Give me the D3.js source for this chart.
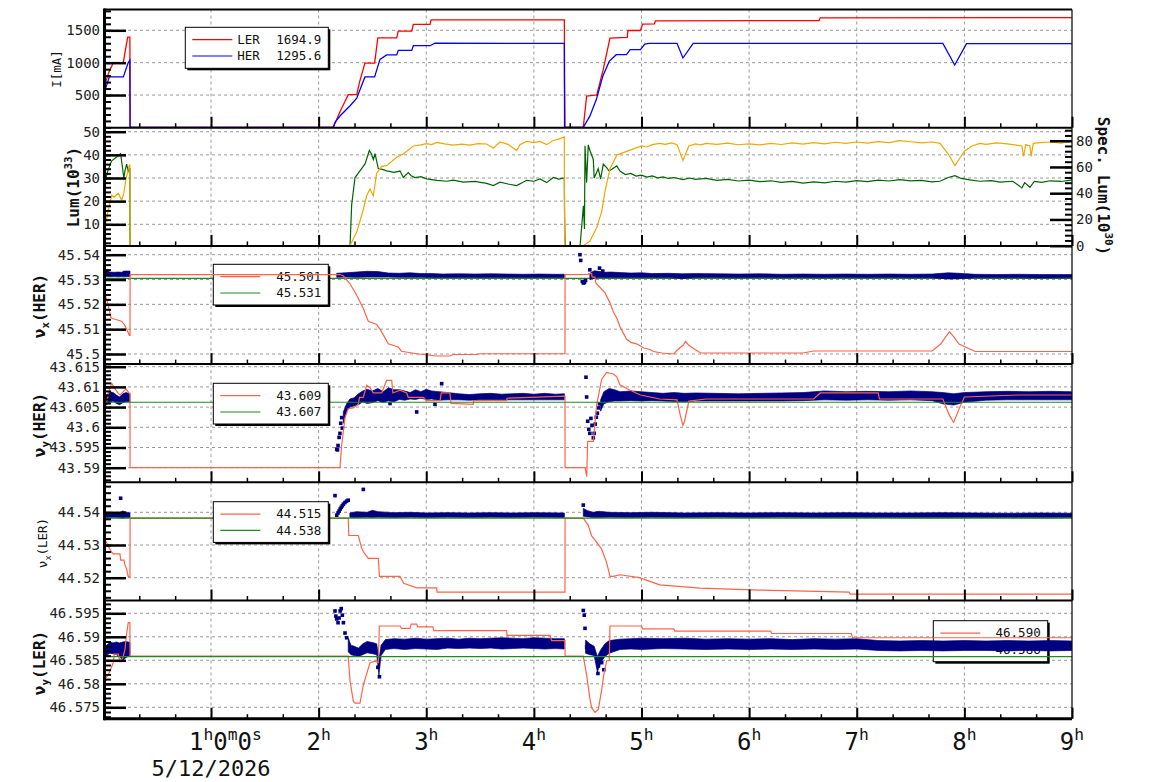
<!DOCTYPE html>
<html>
<head>
<meta charset="utf-8">
<script src="https://cdn.jsdelivr.net/npm/d3@7"></script>
<style>
body { margin: 0; background: #fff; }
svg { display: block; }
</style>
</head>
<body>
<div id="chart"></div>
<script>
"use strict";

// ---- data (time in hours since 0h) ----
const hourTicks = [1, 2, 3, 4, 5, 6, 7, 8, 9];
const dateLabel = "5/12/2026";

// panel 1 : beam currents [mA]
const lerCurrent = [
  [0.0,600],[0.008,635],[0.05,850],[0.092,1000],[0.185,1000],[0.2,1150],[0.226,1395],[0.246,1395],[0.248,0],
  [2.136,0],[2.2,250],[2.24,386],[2.275,505],[2.354,505],[2.38,700],[2.43,992],[2.52,992],[2.55,1383],[2.725,1383],
  [2.74,1487],[2.865,1487],[2.88,1592],[3.035,1592],[3.045,1662],[4.283,1662],[4.285,700],[4.289,0],
  [4.459,0],[4.49,485],[4.568,500],[4.584,500],[4.645,900],[4.707,1380],[4.868,1390],[4.874,1497],[4.99,1497],
  [5.01,1595],[5.12,1600],[5.13,1646],[6.65,1650],[6.66,1692],[9.0,1695]
];
const herCurrent = [
  [0.0,520],[0.008,535],[0.055,780],[0.185,780],[0.23,1000],[0.246,1040],[0.248,0],
  [2.136,0],[2.152,80],[2.2,180],[2.29,330],[2.354,450],[2.43,780],[2.52,780],[2.57,1050],[2.632,1120],[2.725,1120],
  [2.74,1190],[2.865,1190],[2.88,1262],[3.035,1262],[3.08,1300],[4.283,1298],[4.285,0],
  [4.459,0],[4.52,174],[4.58,430],[4.64,790],[4.70,1020],[4.765,1123],[4.86,1123],[4.895,1200],[4.99,1200],
  [5.03,1288],[5.07,1298],[5.33,1298],[5.385,1072],[5.48,1298],[7.80,1298],[7.91,964],[8.02,1295],[9.0,1295]
];
const p1LegendNames = ["LER", "HER"];
const p1LegendValues = ["1694.9", "1295.6"];

// panel 2 : luminosity (left, 1e33) and specific luminosity (right, 1e30)
const luminosity = [
  [0.0,25],[0.008,26.5],[0.04,33],[0.077,37.4],[0.138,39.6],[0.16,40.5],[0.17,37],[0.19,30],[0.2,33],[0.216,36],
  [0.231,33],[0.241,34],[0.246,34],[0.247,7],[0.249,0],
  [2.291,0],[2.307,18.5],[2.338,30.2],[2.384,33.1],[2.431,36.1],[2.471,41.9],[2.49,40.5],[2.508,38],[2.524,40.5],
  [2.554,34.1],[2.6,33.6],[2.632,33.1],[2.7,32.4],[2.756,33],[2.787,30.2],[2.833,32.3],[2.86,31.0],[2.895,30.2],
  [2.95,30.6],[3.004,29.6],[3.1,29.0],[3.19,28.6],[3.25,29.1],[3.344,28.2],[3.45,28.5],[3.561,27.7],[3.623,26.7],
  [3.685,28.2],[3.76,27.4],[3.84,26.7],[3.933,29],[4.0,28.6],[4.057,29.6],[4.119,28],[4.18,30.2],[4.23,29.5],[4.283,30],
  [4.285,15.5],[4.29,0],
  [4.428,0],[4.46,18],[4.47,8],[4.475,43.9],[4.49,28],[4.505,44.3],[4.52,42],[4.552,38],[4.56,30],[4.598,34],
  [4.62,29.6],[4.645,36],[4.676,34.5],[4.70,33],[4.77,35.2],[4.80,33],[4.85,31.5],[4.9,32],[4.95,30.8],[5.0,31.2],
  [5.05,30.4],[5.1,30.9],[5.15,30.1],[5.2,30.5],[5.25,29.8],[5.3,30.2],[5.385,29.3],[5.45,30.0],[5.5,29.4],
  [5.6,29.8],[5.7,29.0],[5.8,29.4],[5.9,28.7],[6.0,29.1],[6.1,28.4],[6.2,28.8],[6.3,28.1],[6.4,28.5],[6.5,27.8],
  [6.6,28.3],[6.7,27.9],[6.8,28.6],[6.9,28.2],[7.0,28.9],[7.1,28.4],[7.2,29.1],[7.3,28.7],[7.4,29.3],[7.5,28.8],
  [7.6,29.0],[7.7,28.3],[7.773,28.6],[7.85,30.2],[7.912,31],[7.97,29.8],[8.05,29.2],[8.144,28.6],[8.25,28.9],
  [8.33,28.2],[8.45,28.6],[8.534,25.7],[8.56,28],[8.609,26],[8.65,28.5],[8.72,28.1],[8.795,28.8],[8.9,28.5],[9.0,29.2]
];
const specLuminosity = [
  [0.0,10],[0.008,11.5],[0.04,25],[0.077,38.5],[0.1,37],[0.138,40],[0.17,34.6],[0.19,40],[0.21,51],[0.241,61.5],
  [0.246,61],[0.248,0],
  [2.291,0],[2.354,10.4],[2.415,27.6],[2.446,38],[2.477,43.2],[2.508,38],[2.539,55.3],[2.586,60.5],[2.632,61],
  [2.725,67.4],[2.787,69.8],[2.879,76],[2.95,76.8],[3.004,77.7],[3.05,77.0],[3.1,78.7],[3.17,77.6],[3.251,76.6],
  [3.33,77.4],[3.406,76.6],[3.48,77.8],[3.561,77.5],[3.623,74.3],[3.685,79],[3.76,77.2],[3.84,72.5],[3.87,77],
  [3.933,79.4],[4.0,78.6],[4.057,79.4],[4.119,77],[4.18,80.2],[4.23,81.2],[4.283,82.9],[4.285,0],
  [4.459,0],[4.521,3.5],[4.584,13.9],[4.63,26],[4.661,41.5],[4.707,58.7],[4.77,69],[4.80,70],[4.9,73],[4.95,74.5],
  [5.0,76],[5.05,75.2],[5.1,77],[5.17,78],[5.22,77.2],[5.28,78.3],[5.33,77],[5.385,65],[5.44,76],[5.5,77.5],
  [5.55,76.8],[5.6,78],[5.7,77.2],[5.8,78.2],[5.9,76.9],[6.0,77.6],[6.1,76.8],[6.2,78],[6.3,77.1],[6.4,78.3],
  [6.5,77.4],[6.6,78.5],[6.7,77.6],[6.8,78.8],[6.9,78],[7.0,79],[7.1,78.2],[7.2,79.3],[7.3,78.6],[7.4,80],
  [7.5,79.2],[7.6,78.4],[7.7,79],[7.773,78],[7.85,70],[7.912,61],[7.96,67],[8.0,72],[8.07,76],[8.144,78],
  [8.2,77.2],[8.3,78.4],[8.4,77.6],[8.534,76],[8.55,68],[8.57,77],[8.609,76],[8.62,68],[8.64,78],[8.7,78.6],
  [8.8,79],[8.9,78.2],[9.0,80]
];

// panel 3 : nu_x (HER)
const nuxHerLine = [
  [0.0,45.525],[0.008,45.5246],[0.031,45.5219],[0.071,45.5146],[0.092,45.5142],[0.17,45.5132],[0.20,45.5115],
  [0.231,45.5086],[0.241,45.5075],[0.247,45.5075],[0.248,45.532],
  [2.198,45.532],[2.229,45.5315],[2.291,45.5283],[2.354,45.5237],[2.415,45.5183],[2.461,45.5132],[2.539,45.5119],
  [2.57,45.51],[2.617,45.5065],[2.647,45.5041],[2.74,45.5028],[2.77,45.5011],[2.911,45.5001],[3.097,45.4992],
  [3.22,45.4992],[3.25,45.4998],[3.469,45.4998],[3.50,45.5001],[4.289,45.5001],[4.29,45.532],
  [4.505,45.5321],[4.51,45.5324],[4.537,45.5324],[4.54,45.531],[4.568,45.531],[4.575,45.5286],[4.661,45.5246],
  [4.707,45.5206],[4.738,45.517],[4.77,45.5145],[4.80,45.511],[4.83,45.5085],[4.86,45.506],[4.90,45.5047],
  [4.96,45.504],[5.02,45.5024],[5.08,45.5018],[5.11,45.501],[5.19,45.5004],[5.30,45.5],[5.33,45.5015],
  [5.385,45.5035],[5.41,45.505],[5.44,45.5035],[5.49,45.502],[5.55,45.5004],[6.5,45.5004],[6.6,45.5012],
  [7.7,45.5012],[7.78,45.504],[7.86,45.509],[7.9,45.507],[7.95,45.504],[8.05,45.502],[8.1,45.501],[9.0,45.501]
];
const nuxHerBand = [
  [0.0,45.5311,45.5340],[0.03,45.5312,45.5338],[0.06,45.5311,45.5330],[0.1,45.5312,45.5329],[0.14,45.5311,45.5330],
  [0.17,45.5312,45.5329],[0.19,45.5311,45.5334],[0.22,45.5312,45.5334],[0.247,45.5312,45.5334], null,
  [2.168,45.5309,45.5325],[2.25,45.5310,45.5327],[2.35,45.5309,45.5330],[2.45,45.5310,45.5333],[2.55,45.5310,45.5332],
  [2.65,45.5310,45.5326],[2.75,45.5309,45.5325],[2.85,45.5309,45.5327],[2.95,45.5309,45.5324],[3.05,45.5308,45.5324],
  [3.15,45.5308,45.5322],[3.3,45.5308,45.5323],[3.45,45.5308,45.5322],[3.6,45.5308,45.5323],[3.75,45.5308,45.5322],
  [3.9,45.5308,45.5321],[4.05,45.5308,45.5322],[4.2,45.5308,45.5321],[4.283,45.5308,45.5321], null,
  [4.52,45.5300,45.5325],[4.56,45.5305,45.5335],[4.6,45.5308,45.5333],[4.65,45.5308,45.5329],[4.72,45.5308,45.5330],
  [4.8,45.5308,45.5328],[4.9,45.5308,45.5326],[5.0,45.5308,45.5327],[5.1,45.5308,45.5324],[5.25,45.5308,45.5325],
  [5.38,45.5304,45.5323],[5.5,45.5308,45.5324],[5.7,45.5308,45.5323],[5.9,45.5307,45.5322],[6.1,45.5308,45.5323],
  [6.3,45.5307,45.5321],[6.5,45.5308,45.5322],[6.7,45.5307,45.5321],[6.9,45.5308,45.5322],[7.1,45.5307,45.5321],
  [7.3,45.5308,45.5322],[7.5,45.5307,45.5321],[7.7,45.5307,45.5322],[7.85,45.5302,45.5327],[7.95,45.5303,45.5325],
  [8.1,45.5307,45.5321],[8.3,45.5307,45.5320],[8.5,45.5307,45.5321],[8.7,45.5306,45.5320],[9.0,45.5307,45.5320]
];
const nuxHerDots = [
  [4.428,45.5400],[4.435,45.5377],[4.45,45.5292],[4.46,45.5286],[4.47,45.5288],[4.48,45.5296],[4.52,45.5339],
  [4.61,45.5346],[4.64,45.5334]
];

// panel 4 : nu_y (HER)
const nuyHerLine = [
  [0.0,43.605],[0.008,43.605],[0.031,43.6062],[0.055,43.6092],[0.077,43.6109],[0.092,43.6102],[0.138,43.6084],
  [0.154,43.608],[0.17,43.6084],[0.21,43.6095],[0.241,43.6084],[0.247,43.6084],[0.248,43.59],
  [2.198,43.59],[2.214,43.5956],[2.245,43.6024],[2.275,43.6046],[2.322,43.6048],[2.368,43.6057],[2.38,43.6074],
  [2.415,43.6074],[2.446,43.6104],[2.477,43.6098],[2.508,43.6085],[2.586,43.6085],[2.632,43.6116],[2.679,43.6116],
  [2.69,43.6085],[2.756,43.6092],[2.818,43.6085],[2.833,43.6074],[2.972,43.6074],[3.0,43.6066],[3.128,43.6066],
  [3.14,43.6085],[3.22,43.6085],[3.23,43.6059],[3.437,43.6057],[3.44,43.6066],[3.747,43.6066],[3.75,43.6072],
  [4.289,43.6077],[4.29,43.59],
  [4.475,43.59],[4.491,43.5878],[4.50,43.5965],[4.552,43.5965],[4.584,43.6057],[4.63,43.6119],[4.676,43.6136],
  [4.738,43.6132],[4.77,43.6125],[4.80,43.6105],[4.87,43.6095],[4.99,43.608],[5.17,43.607],[5.33,43.6068],
  [5.36,43.603],[5.385,43.6005],[5.40,43.6015],[5.44,43.6065],[5.6,43.607],[6.6,43.607],[6.66,43.6085],
  [7.2,43.6085],[7.21,43.607],[7.8,43.607],[7.86,43.603],[7.9,43.6012],[7.95,43.6045],[8.0,43.6075],[8.5,43.608],
  [9.0,43.608]
];
const nuyHerBand = [
  [0.0,43.6053,43.6083],[0.03,43.6056,43.6080],[0.06,43.6062,43.6088],[0.09,43.6065,43.6086],[0.12,43.6059,43.6080],
  [0.15,43.6056,43.6075],[0.18,43.6061,43.6083],[0.21,43.6063,43.6086],[0.247,43.6063,43.6083], null,
  [2.229,43.6010,43.6038],[2.26,43.6040,43.6058],[2.29,43.6050,43.6070],[2.33,43.6053,43.6073],[2.37,43.6056,43.6083],
  [2.41,43.6063,43.6090],[2.45,43.6059,43.6094],[2.5,43.6061,43.6090],[2.55,43.6066,43.6096],[2.6,43.6061,43.6088],
  [2.65,43.6066,43.6098],[2.7,43.6063,43.6093],[2.75,43.6069,43.6093],[2.8,43.6067,43.6090],[2.85,43.6070,43.6086],
  [2.9,43.6069,43.6093],[2.95,43.6072,43.6088],[3.0,43.6069,43.6094],[3.05,43.6070,43.6090],[3.12,43.6067,43.6088],
  [3.2,43.6068,43.6086],[3.3,43.6068,43.6083],[3.4,43.6067,43.6081],[3.5,43.6068,43.6083],[3.6,43.6068,43.6084],
  [3.7,43.6068,43.6082],[3.8,43.6068,43.6083],[3.9,43.6068,43.6084],[4.0,43.6068,43.6082],[4.1,43.6068,43.6084],
  [4.2,43.6068,43.6082],[4.283,43.6068,43.6083], null,
  [4.62,43.6040,43.6068],[4.65,43.6058,43.6088],[4.7,43.6063,43.6096],[4.75,43.6065,43.6093],[4.8,43.6065,43.6088],
  [4.9,43.6066,43.6090],[5.0,43.6065,43.6088],[5.1,43.6066,43.6086],[5.2,43.6065,43.6084],[5.3,43.6064,43.6086],
  [5.4,43.6063,43.6084],[5.5,43.6065,43.6085],[5.7,43.6065,43.6084],[5.9,43.6065,43.6083],[6.1,43.6065,43.6084],
  [6.3,43.6065,43.6085],[6.5,43.6066,43.6086],[6.7,43.6068,43.6090],[6.9,43.6067,43.6088],[7.1,43.6068,43.6089],
  [7.3,43.6067,43.6088],[7.5,43.6068,43.6090],[7.7,43.6066,43.6088],[7.8,43.6058,43.6086],[7.9,43.6055,43.6083],
  [8.0,43.6062,43.6086],[8.2,43.6067,43.6088],[8.4,43.6068,43.6089],[8.6,43.6068,43.6088],[8.8,43.6068,43.6089],
  [9.0,43.6068,43.6088]
];
const nuyHerDots = [
  [2.168,43.5946],[2.175,43.5944],[2.18,43.5955],[2.19,43.5975],[2.198,43.5985],[2.205,43.6010],[2.214,43.6024],
  [2.22,43.5998],[2.663,43.6059],[2.911,43.6038],[3.081,43.6057],[3.143,43.6108],
  [4.484,43.6124],[4.49,43.6075],[4.5,43.6015],[4.51,43.5995],[4.52,43.5985],[4.53,43.6022],[4.54,43.6005],
  [4.552,43.5974],[4.56,43.5985],[4.57,43.6008],[4.58,43.6025],[4.59,43.6035],[4.6,43.6048],[4.61,43.6058]
];

// panel 5 : nu_x (LER)
const nuxLerLine = [
  [0.0,44.533],[0.008,44.532],[0.031,44.5306],[0.071,44.528],[0.092,44.5273],[0.154,44.5273],[0.16,44.5254],
  [0.191,44.5254],[0.20,44.524],[0.216,44.5226],[0.231,44.5203],[0.247,44.5203],[0.248,44.5382],
  [2.275,44.5382],[2.28,44.5329],[2.368,44.5329],[2.40,44.529],[2.415,44.528],[2.461,44.5259],[2.554,44.5259],
  [2.565,44.5204],[2.756,44.5204],[2.79,44.5183],[2.911,44.5169],[3.097,44.5169],[3.1,44.5156],[4.289,44.5156],
  [4.29,44.5382],
  [4.459,44.5382],[4.505,44.536],[4.537,44.5328],[4.584,44.5308],[4.63,44.5287],[4.676,44.5246],[4.707,44.5204],
  [4.738,44.5204],[4.80,44.5209],[4.98,44.52],[5.17,44.5178],[5.543,44.5168],[6.1,44.5162],[6.93,44.5156],
  [6.94,44.515],[9.0,44.515]
];
const nuxLerBand = [
  [0.0,44.5384,44.5398],[0.05,44.5384,44.5396],[0.1,44.5385,44.5397],[0.15,44.5383,44.5399],[0.18,44.5382,44.5404],
  [0.2,44.5383,44.5402],[0.247,44.5384,44.5398], null,
  [2.29,44.5384,44.5398],[2.35,44.5384,44.5402],[2.45,44.5385,44.5400],[2.5,44.5384,44.5406],[2.55,44.5385,44.5402],
  [2.7,44.5384,44.5399],[2.85,44.5385,44.5400],[3.0,44.5384,44.5398],[3.2,44.5385,44.5399],[3.4,44.5384,44.5398],
  [3.6,44.5385,44.5399],[3.8,44.5384,44.5398],[4.0,44.5385,44.5399],[4.283,44.5384,44.5398], null,
  [4.459,44.5388,44.5412],[4.5,44.5386,44.5405],[4.55,44.5384,44.5400],[4.6,44.5384,44.5403],[4.7,44.5385,44.5400],
  [4.9,44.5384,44.5399],[5.1,44.5385,44.5400],[5.4,44.5384,44.5398],[5.7,44.5385,44.5399],[6.0,44.5384,44.5398],
  [6.3,44.5385,44.5399],[6.6,44.5384,44.5398],[6.9,44.5384,44.5399],[7.2,44.5384,44.5398],[7.5,44.5383,44.5398],
  [7.8,44.5383,44.5399],[8.1,44.5384,44.5398],[8.4,44.5384,44.5397],[8.7,44.5383,44.5398],[9.0,44.5384,44.5397]
];
const nuxLerDots = [
  [0.16,44.5443],[2.152,44.5451],[2.168,44.5391],[2.18,44.5398],[2.19,44.5404],[2.2,44.5410],[2.21,44.5415],
  [2.22,44.5420],[2.23,44.5425],[2.245,44.5430],[2.26,44.5434],[2.275,44.5437],[2.415,44.5470],[4.459,44.5422]
];

// panel 6 : nu_y (LER)
const nuyLerLine = [
  [0.0,46.5805],[0.008,46.581],[0.031,46.5815],[0.05,46.5822],[0.071,46.5833],[0.092,46.5845],[0.10,46.5863],
  [0.138,46.5863],[0.154,46.5847],[0.17,46.5847],[0.18,46.5855],[0.20,46.5872],[0.216,46.5907],[0.231,46.593],
  [0.246,46.593],[0.248,46.5859],
  [2.275,46.5859],[2.291,46.5807],[2.322,46.5763],[2.338,46.5759],[2.384,46.5759],[2.415,46.5797],[2.477,46.5845],
  [2.524,46.5848],[2.554,46.5845],[2.564,46.5923],[2.756,46.5923],[2.77,46.5918],[2.849,46.5918],[2.86,46.5927],
  [2.911,46.5927],[2.92,46.5921],[3.062,46.5921],[3.07,46.5913],[3.747,46.5913],[3.75,46.5903],[4.15,46.5903],
  [4.165,46.5892],[4.289,46.5892],[4.29,46.5859],
  [4.459,46.5859],[4.491,46.5817],[4.521,46.5768],[4.537,46.5749],[4.568,46.5739],[4.598,46.5745],[4.63,46.5787],
  [4.65,46.582],[4.676,46.5849],[4.70,46.5849],[4.707,46.5923],[5.0,46.5923],[5.01,46.5917],[5.3,46.5917],
  [5.31,46.5912],[6.2,46.5912],[6.21,46.5907],[6.95,46.5907],[6.96,46.5898],[9.0,46.5898]
];
const nuyLerBand = [
  [0.0,46.5862,46.5880],[0.03,46.5861,46.5882],[0.06,46.5865,46.5889],[0.09,46.5864,46.5887],[0.12,46.5862,46.5889],
  [0.15,46.5858,46.5887],[0.18,46.5850,46.5889],[0.21,46.5856,46.5890],[0.247,46.5860,46.5888], null,
  [2.275,46.5868,46.5898],[2.3,46.5862,46.5882],[2.33,46.5860,46.5880],[2.37,46.5858,46.5876],[2.41,46.5862,46.5885],
  [2.45,46.5866,46.5890],[2.5,46.5864,46.5888],[2.54,46.5862,46.5885],[2.56,46.5818,46.5850],[2.58,46.5860,46.5882],
  [2.62,46.5873,46.5894],[2.7,46.5875,46.5896],[2.8,46.5873,46.5895],[2.9,46.5875,46.5897],[3.0,46.5874,46.5895],
  [3.1,46.5873,46.5896],[3.2,46.5876,46.5897],[3.3,46.5875,46.5895],[3.4,46.5876,46.5897],[3.5,46.5875,46.5896],
  [3.6,46.5876,46.5897],[3.7,46.5874,46.5898],[3.8,46.5875,46.5897],[3.9,46.5876,46.5896],[4.0,46.5875,46.5898],
  [4.1,46.5874,46.5897],[4.2,46.5875,46.5896],[4.283,46.5874,46.5896], null,
  [4.48,46.5865,46.5893],[4.52,46.5862,46.5885],[4.56,46.5860,46.5880],[4.59,46.5825,46.5858],[4.62,46.5845,46.5872],
  [4.66,46.5858,46.5885],[4.7,46.5865,46.5892],[4.8,46.5873,46.5895],[4.9,46.5874,46.5896],[5.0,46.5873,46.5897],
  [5.2,46.5875,46.5896],[5.4,46.5874,46.5897],[5.6,46.5873,46.5895],[5.8,46.5874,46.5896],[6.0,46.5873,46.5895],
  [6.2,46.5874,46.5896],[6.4,46.5873,46.5894],[6.6,46.5874,46.5896],[6.8,46.5873,46.5895],[7.0,46.5874,46.5896],
  [7.2,46.5871,46.5892],[7.4,46.5870,46.5891],[7.6,46.5871,46.5892],[7.8,46.5870,46.5891],[8.0,46.5871,46.5892],
  [8.2,46.5871,46.5891],[8.4,46.5870,46.5892],[8.6,46.5871,46.5891],[8.8,46.5870,46.5892],[9.0,46.5871,46.5891]
];
const nuyLerDots = [
  [2.152,46.5955],[2.16,46.5944],[2.168,46.5938],[2.18,46.5930],[2.19,46.5940],[2.2,46.5955],[2.21,46.5960],
  [2.22,46.5946],[2.23,46.5930],[2.245,46.5908],[2.26,46.5898],[2.55,46.5835],[2.565,46.5815],
  [4.459,46.5956],[4.468,46.5946],[4.475,46.5918],[4.49,46.5878],[4.595,46.5822],[4.6,46.5838],[4.63,46.5845],
  [4.65,46.5830]
];

// reference (set) tunes and legend texts
const tuneRefs = [45.5305, 43.6062, 44.5382, 46.5858];
const tuneLegendValues = [["45.501","45.531"], ["43.609","43.607"], ["44.515","44.538"], ["46.590","46.586"]];

// axis ticks
const p1Ticks = [500, 1000, 1500];
const p2LeftTicks = [10, 20, 30, 40, 50];
const p2RightTicks = [0, 20, 40, 60, 80];
const p3Ticks = [45.5, 45.51, 45.52, 45.53, 45.54];
const p4Ticks = [43.59, 43.595, 43.6, 43.605, 43.61, 43.615];
const p5Ticks = [44.52, 44.53, 44.54];
const p6Ticks = [46.575, 46.58, 46.585, 46.59, 46.595];

// ---- layout ----
const W = 1154, H = 782;
const PL = 104, PR = 1072, PH = 118.2;
const tops = [9.5, 127.7, 245.9, 364.1, 482.3, 600.5];
const MONO = "'DejaVu Sans Mono', monospace";

const C = {
  ler: "#ff0000", her: "#0000ff", lum: "#006400", spec: "#f0a800",
  meas: "#ff6347", ref: "#1e8c1e", dots: "#000080", grid: "#999"
};

const svg = d3.select("#chart").append("svg").attr("width", W).attr("height", H);
const x = d3.scaleLinear().domain([0, 9]).range([103.4, 1072]);

function cal(v0, v1, p0, p1) {
  return d3.scaleLinear().domain([v0, v1]).range([p0, p1]);
}

const yScales = [
  cal(0, 1500, 127.4, 30.3),
  cal(10, 50, 224.3, 131.7),
  cal(45.5, 45.54, 354, 254.7),
  cal(43.59, 43.615, 467.7, 366.7),
  cal(44.52, 44.54, 577.7, 512.3),
  cal(46.575, 46.595, 707.3, 613.3)
];
const ySpec = cal(0, 80, 245.7, 140.7);
const minorSteps = [100, 2, 0.002, 0.001, 0.002, 0.001];
const majorTicks = [p1Ticks, p2LeftTicks, p3Ticks, p4Ticks, p5Ticks, p6Ticks];

const defs = svg.append("defs");
tops.forEach((t, i) => {
  defs.append("clipPath").attr("id", "clip" + i)
    .append("rect").attr("x", PL).attr("y", t).attr("width", PR - PL).attr("height", PH);
});

function minorValues(y, top, step) {
  const a = y.invert(top + PH), b = y.invert(top);
  const lo = Math.min(a, b), hi = Math.max(a, b);
  return d3.range(Math.ceil(lo / step - 1e-6), Math.floor(hi / step + 1e-6) + 1).map(k => +(k * step).toFixed(4));
}
function inside(y, top, vals) {
  return vals.filter(v => y(v) >= top - 0.5 && y(v) <= top + PH + 0.5);
}

// rich text with super/subscripts: parts = [[str, kind], ...]
function rich(sel, parts, fs) {
  let cur = 0;
  parts.forEach(([s, kind]) => {
    const shift = kind === "sup" ? -0.42 * fs : kind === "sub" ? 0.28 * fs : 0;
    sel.append("tspan").attr("dy", shift - cur)
      .style("font-size", (kind ? 0.68 * fs : fs) + "px").text(s);
    cur = shift;
  });
  return sel;
}

const gridG = svg.append("g");
const dataG = svg.append("g");
const axisG = svg.append("g");

// grid
tops.forEach((t, i) => {
  const g = gridG.append("g");
  g.selectAll("line.v").data(hourTicks.filter(h => h < 9)).enter().append("line")
    .attr("x1", d => x(d)).attr("x2", d => x(d)).attr("y1", t).attr("y2", t + PH)
    .attr("stroke", C.grid).attr("stroke-dasharray", "3,3");
  g.selectAll("line.h").data(inside(yScales[i], t, majorTicks[i])).enter().append("line")
    .attr("x1", PL).attr("x2", PR).attr("y1", d => yScales[i](d)).attr("y2", d => yScales[i](d))
    .attr("stroke", C.grid).attr("stroke-dasharray", "3,3");
});

function lineGen(y) {
  return d3.line().x(d => x(d[0])).y(d => y(d[1]));
}
function drawLine(g, y, data, color, w) {
  g.append("path").datum(data).attr("d", lineGen(y))
    .attr("fill", "none").attr("stroke", color).attr("stroke-width", w);
}
function drawBand(g, y, data) {
  const area = d3.area().defined(d => d !== null)
    .x(d => x(d[0])).y0(d => y(d[1])).y1(d => y(d[2]));
  g.append("path").datum(data).attr("d", area)
    .attr("fill", C.dots).attr("stroke", C.dots).attr("stroke-width", 0.7);
}
function drawDots(g, y, data) {
  g.selectAll(null).data(data).enter().append("rect")
    .attr("x", d => x(d[0]) - 1.8).attr("y", d => y(d[1]) - 1.8)
    .attr("width", 3.6).attr("height", 3.6).attr("fill", C.dots);
}
function legend(g, box, rows) {
  const lg = g.append("g");
  lg.append("rect").attr("x", box.x + 2).attr("y", box.y + 2).attr("width", box.w).attr("height", box.h).attr("fill", "#000");
  lg.append("rect").attr("x", box.x).attr("y", box.y).attr("width", box.w).attr("height", box.h)
    .attr("fill", "#fff").attr("stroke", "#000").attr("stroke-width", 1);
  rows.forEach((r, k) => {
    const yy = box.y + 12.4 + k * 16.3;
    lg.append("line").attr("x1", box.x + 7).attr("x2", box.x + 47).attr("y1", yy).attr("y2", yy)
      .attr("stroke", r.color).attr("stroke-width", 1.2);
    if (r.name) {
      lg.append("text").attr("x", box.x + 52).attr("y", yy + 4.3)
        .style("font-family", MONO).style("font-size", "12.5px").attr("fill", "#111").text(r.name);
    }
    lg.append("text").attr("x", box.x + box.w - 7).attr("y", yy + 4.3).attr("text-anchor", "end")
      .style("font-family", MONO).style("font-size", "12.5px").attr("fill", "#111").text(r.value);
  });
}

// panel 1
const g0 = dataG.append("g").attr("clip-path", "url(#clip0)");
drawLine(g0, yScales[0], lerCurrent, C.ler, 1.3);
drawLine(g0, yScales[0], herCurrent, C.her, 1.3);
legend(dataG, { x: 185.3, y: 27.3, w: 143, h: 41 }, [
  { color: C.ler, name: p1LegendNames[0], value: p1LegendValues[0] },
  { color: C.her, name: p1LegendNames[1], value: p1LegendValues[1] }
]);

// panel 2
const g1 = dataG.append("g").attr("clip-path", "url(#clip1)");
drawLine(g1, yScales[1], luminosity, C.lum, 1.2);
drawLine(g1, ySpec, specLuminosity, C.spec, 1.2);

// tune panels
const tuneSets = [
  { line: nuxHerLine, band: nuxHerBand, dots: nuxHerDots, box: { x: 213.3, y: 264.3, w: 115, h: 40.7 }, order: ["ref", "legend", "band", "line"] },
  { line: nuyHerLine, band: nuyHerBand, dots: nuyHerDots, box: { x: 213.3, y: 383.3, w: 115, h: 40.7 }, order: ["band", "line", "ref", "legend"] },
  { line: nuxLerLine, band: nuxLerBand, dots: nuxLerDots, box: { x: 213.3, y: 501.7, w: 115, h: 40.7 }, order: ["band", "line", "ref", "legend"] },
  { line: nuyLerLine, band: nuyLerBand, dots: nuyLerDots, box: { x: 933.3, y: 620.7, w: 114.4, h: 41 }, order: ["legend", "band", "line", "ref"] }
];
tuneSets.forEach((s, k) => {
  const i = k + 2, y = yScales[i];
  const g = dataG.append("g");
  const cg = () => g.append("g").attr("clip-path", "url(#clip" + i + ")");
  s.order.forEach(step => {
    if (step === "ref") {
      cg().append("line").attr("x1", PL).attr("x2", PR)
        .attr("y1", y(tuneRefs[k])).attr("y2", y(tuneRefs[k]))
        .attr("stroke", C.ref).attr("stroke-width", 1.2);
    } else if (step === "legend") {
      legend(g, s.box, [
        { color: C.meas, value: tuneLegendValues[k][0] },
        { color: C.ref, value: tuneLegendValues[k][1] }
      ]);
    } else if (step === "band") {
      const bg = cg();
      drawBand(bg, y, s.band);
      drawDots(bg, y, s.dots);
    } else {
      drawLine(cg(), y, s.line, C.meas, 1.2);
    }
  });
});

// axes
const minorHours = d3.range(1, 27).filter(k => k % 3 !== 0).map(k => k / 3);
tops.forEach((t, i) => {
  const y = yScales[i];
  const bottom = t + PH;
  // left axis: major (labelled) and minor ticks pointing inward
  axisG.append("g").attr("transform", `translate(${PL},0)`)
    .call(d3.axisLeft(y).tickValues(minorValues(y, t, minorSteps[i])).tickSizeInner(-7).tickSizeOuter(0).tickFormat(""))
    .call(a => a.select(".domain").remove())
    .selectAll("line").attr("stroke", "#000").attr("stroke-width", 2);
  const maj = axisG.append("g").attr("transform", `translate(${PL},0)`)
    .call(d3.axisLeft(y).tickValues(inside(y, t, majorTicks[i])).tickSizeInner(-22).tickSizeOuter(0).tickPadding(4)
      .tickFormat(d => String(+d.toFixed(4))))
    .call(a => a.select(".domain").remove());
  maj.selectAll("line").attr("stroke", "#000").attr("stroke-width", 2.5);
  maj.selectAll("text").style("font-family", MONO).style("font-size", "14px").attr("fill", "#222");

  // time ticks on the lower edge, pointing up
  axisG.append("g").attr("transform", `translate(0,${bottom})`)
    .call(d3.axisBottom(x).tickValues(minorHours).tickSizeInner(-4.5).tickSizeOuter(0).tickFormat(""))
    .call(a => a.select(".domain").remove())
    .selectAll("line").attr("stroke", "#000").attr("stroke-width", 1.5);
  axisG.append("g").attr("transform", `translate(0,${bottom})`)
    .call(d3.axisBottom(x).tickValues(hourTicks).tickSizeInner(-11).tickSizeOuter(0).tickFormat(""))
    .call(a => a.select(".domain").remove())
    .selectAll("line").attr("stroke", "#000").attr("stroke-width", 2);

  axisG.append("line").attr("x1", PL).attr("x2", PR).attr("y1", t).attr("y2", t)
    .attr("stroke", "#000").attr("stroke-width", 2);
});

// right axis of panel 2
const t1 = tops[1];
axisG.append("g").attr("transform", `translate(${PR},0)`)
  .call(d3.axisRight(ySpec).tickValues(minorValues(ySpec, t1, 4)).tickSizeInner(-7).tickSizeOuter(0).tickFormat(""))
  .call(a => a.select(".domain").remove())
  .selectAll("line").attr("stroke", "#000").attr("stroke-width", 2);
const specAxis = axisG.append("g").attr("transform", `translate(${PR},0)`)
  .call(d3.axisRight(ySpec).tickValues(p2RightTicks).tickSizeInner(-22).tickSizeOuter(0).tickPadding(4))
  .call(a => a.select(".domain").remove());
specAxis.selectAll("line").attr("stroke", "#000").attr("stroke-width", 2.5);
specAxis.selectAll("text").style("font-family", MONO).style("font-size", "14px").attr("fill", "#222");

// frame
const bottomY = tops[5] + PH;
axisG.append("line").attr("x1", PL).attr("x2", PR).attr("y1", bottomY).attr("y2", bottomY).attr("stroke", "#000").attr("stroke-width", 3);
axisG.append("line").attr("x1", PL + 0.5).attr("x2", PL + 0.5).attr("y1", tops[0] - 1).attr("y2", bottomY + 1.5).attr("stroke", "#000").attr("stroke-width", 3);
axisG.append("line").attr("x1", PR).attr("x2", PR).attr("y1", tops[0]).attr("y2", bottomY).attr("stroke", "#000").attr("stroke-width", 1.2);

// time labels
hourTicks.forEach(h => {
  const t = axisG.append("text").attr("y", 750).style("font-family", MONO).attr("fill", "#111");
  if (h === 1) {
    t.attr("x", x(h) - 22).attr("text-anchor", "start");
    rich(t, [["1", null], ["h", "sup"], ["0", null], ["m", "sup"], ["0", null], ["s", "sup"]], 24);
  } else {
    t.attr("x", x(h)).attr("text-anchor", "middle");
    rich(t, [[String(h), null], ["h", "sup"]], 24);
  }
});
axisG.append("text").attr("x", x(1)).attr("y", 776).attr("text-anchor", "middle")
  .style("font-family", MONO).style("font-size", "22px").attr("fill", "#111").text(dateLabel);

// axis titles
function title(xp, yp, rot, parts, fs, bold) {
  const t = axisG.append("text").attr("transform", `translate(${xp},${yp}) rotate(${rot})`)
    .attr("text-anchor", "middle").style("font-family", MONO)
    .style("font-weight", bold ? "bold" : "normal").attr("fill", "#111");
  rich(t, parts, fs);
}
title(61, 69, -90, [["I[mA]", null]], 12.5, false);
title(79, 187, -90, [["Lum(10", null], ["33", "sup"], [")", null]], 16, true);
title(1098, 186, 90, [["Spec. Lum(10", null], ["30", "sup"], [")", null]], 16, true);
title(45, 306, -90, [["ν", null], ["x", "sub"], ["(HER)", null]], 16, true);
title(45, 425, -90, [["ν", null], ["y", "sub"], ["(HER)", null]], 16, true);
title(47, 543, -90, [["ν", null], ["x", "sub"], ["(LER)", null]], 12.5, false);
title(45, 663, -90, [["ν", null], ["y", "sub"], ["(LER)", null]], 16, true);
</script>
</body>
</html>
